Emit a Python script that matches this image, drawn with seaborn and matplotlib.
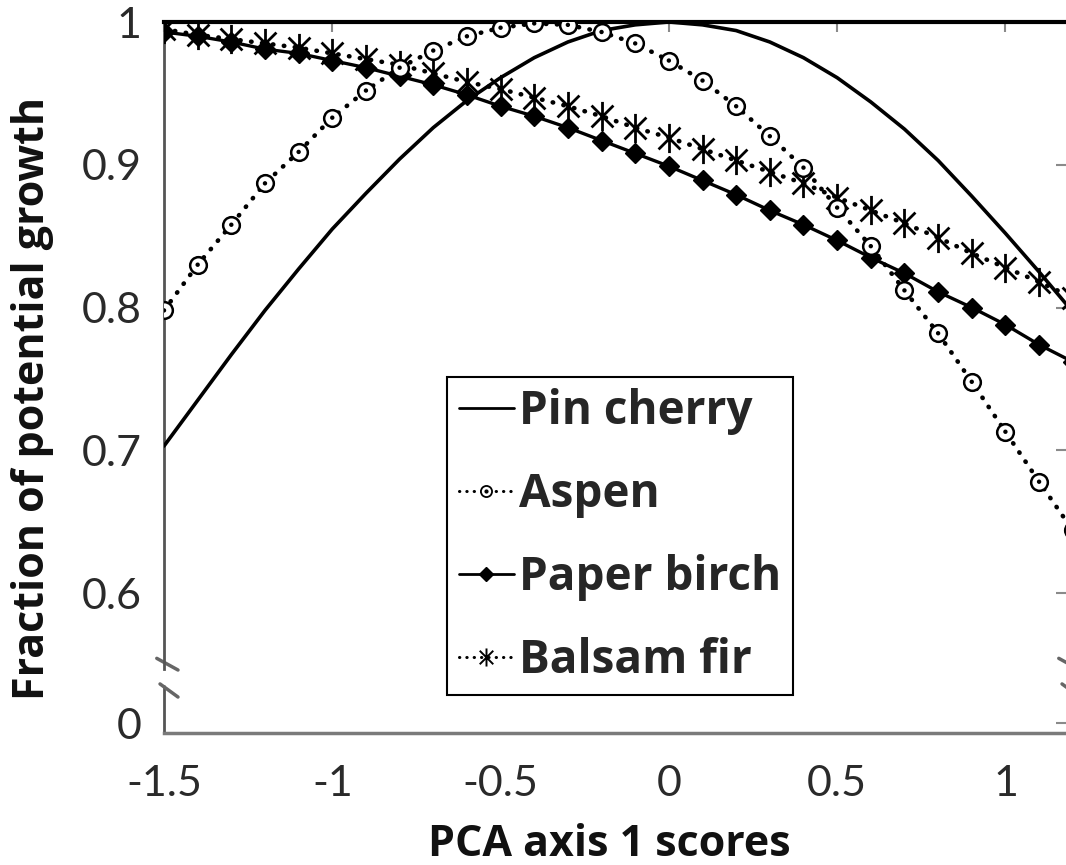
import numpy as np
import pandas as pd
import matplotlib
matplotlib.use("Agg")
import matplotlib.pyplot as plt
from matplotlib.lines import Line2D
from matplotlib.path import Path
from matplotlib.legend_handler import HandlerTuple
from matplotlib import font_manager as fm
import seaborn as sns

# ---------------- data ----------------
pca_scores = [-1.5, -1.4, -1.3, -1.2, -1.1, -1.0, -0.9, -0.8, -0.7, -0.6,
              -0.5, -0.4, -0.3, -0.2, -0.1, 0.0, 0.1, 0.2, 0.3, 0.4,
              0.5, 0.6, 0.7, 0.8, 0.9, 1.0, 1.1, 1.2]
pin_cherry = [0.703, 0.735, 0.767, 0.798, 0.827, 0.855, 0.880, 0.904, 0.926, 0.945,
              0.961, 0.975, 0.986, 0.994, 0.998, 1.000, 0.998, 0.994, 0.986, 0.975,
              0.961, 0.944, 0.925, 0.903, 0.878, 0.852, 0.825, 0.797]
aspen = [0.798, 0.830, 0.858, 0.887, 0.909, 0.933, 0.952, 0.968, 0.980, 0.990,
         0.996, 0.999, 0.998, 0.993, 0.985, 0.973, 0.959, 0.941, 0.920, 0.898,
         0.870, 0.843, 0.812, 0.782, 0.748, 0.713, 0.678, 0.644]
paper_birch = [0.993, 0.990, 0.986, 0.981, 0.978, 0.973, 0.968, 0.962, 0.956, 0.949,
               0.941, 0.934, 0.926, 0.917, 0.908, 0.899, 0.889, 0.879, 0.868, 0.858,
               0.847, 0.835, 0.824, 0.811, 0.800, 0.788, 0.774, 0.762]
balsam_fir = [0.995, 0.991, 0.988, 0.985, 0.982, 0.978, 0.974, 0.970, 0.964, 0.958,
              0.953, 0.947, 0.941, 0.934, 0.926, 0.919, 0.911, 0.903, 0.895, 0.887,
              0.877, 0.868, 0.859, 0.849, 0.838, 0.828, 0.818, 0.807]
species = ["Pin cherry", "Aspen", "Paper birch", "Balsam fir"]

x_ticks = [-1.5, -1.0, -0.5, 0.0, 0.5, 1.0]
x_tick_labels = ["-1.5", "-1", "-0.5", "0", "0.5", "1"]
y_ticks = [0.509, 0.6, 0.7, 0.8, 0.9, 1.0]       # first tick stands for 0 (broken axis)
y_tick_labels = ["0", "0.6", "0.7", "0.8", "0.9", "1"]

df = pd.DataFrame({"x": pca_scores, "Pin cherry": pin_cherry, "Aspen": aspen,
                   "Paper birch": paper_birch, "Balsam fir": balsam_fir})

# ---------------- fonts ----------------
sns.set_style("white")
names = {f.name for f in fm.fontManager.ttflist}
def pick(*cands):
    for c in cands:
        if c in names:
            return c
    return "DejaVu Sans"
bold_font = pick("Liberation Sans Narrow", "Open Sans", "Liberation Sans")
light_font = pick("Lato", "Open Sans", "Roboto")
plt.rcParams["font.family"] = [light_font, "DejaVu Sans"]

# ---------------- figure ----------------
fig = plt.figure(figsize=(10.66, 8.65), dpi=100)
ax = fig.add_axes([164/1066, 1-733/865, (1066-164)/1066, (733-22)/865])

star = Path([(0, -1), (0, 1), (-0.75, -0.75), (0.75, 0.75), (-0.75, 0.75), (0.75, -0.75)],
            [Path.MOVETO, Path.LINETO, Path.MOVETO, Path.LINETO, Path.MOVETO, Path.LINETO])
dotted = (0, (0.1, 2.3))

sns.lineplot(data=df, x="x", y="Pin cherry", ax=ax, color="black", lw=2.6,
             legend=False, zorder=3)
sns.lineplot(data=df, x="x", y="Paper birch", ax=ax, color="black", lw=2.4,
             marker="D", markersize=10, markerfacecolor="black",
             markeredgecolor="black", markeredgewidth=1, legend=False, zorder=4)
sns.lineplot(data=df, x="x", y="Balsam fir", ax=ax, color="black", lw=3.3,
             linestyle=dotted, dash_capstyle="round",
             marker=star, markersize=21, markeredgecolor="black",
             markeredgewidth=2.0, legend=False, zorder=5)
sns.lineplot(data=df, x="x", y="Aspen", ax=ax, color="black", lw=3.3,
             linestyle=dotted, dash_capstyle="round",
             marker="o", markersize=12, markerfacecolor="white",
             markeredgecolor="black", markeredgewidth=1.8, legend=False, zorder=6)
sns.scatterplot(data=df, x="x", y="Aspen", ax=ax, color="black", s=10,
                edgecolor="none", legend=False, zorder=7)

ax.set_xlim(-1.5, 1.18)
ax.set_ylim(0.502, 1.0)
ax.set_xticks(x_ticks)
ax.set_xticklabels(x_tick_labels)
ax.set_yticks(y_ticks)
ax.set_yticklabels(y_tick_labels)
ax.tick_params(axis="both", direction="in", length=7, width=1.5, color="#8a8a8a",
               labelsize=31, labelcolor="#2a2a2a")
ax.tick_params(axis="x", pad=23, top=True)
ax.tick_params(axis="y", pad=16, right=True)

# spines
ax.spines["top"].set_linewidth(3)
ax.spines["top"].set_color("black")
ax.spines["bottom"].set_linewidth(2.5)
ax.spines["bottom"].set_color("#7a7a7a")
ax.spines["right"].set_visible(False)
ax.spines["left"].set_linewidth(2)
ax.spines["left"].set_color("#555555")
ax.spines["left"].set_bounds(0.547, 1.0)
# lower piece of the broken y axis and the break marks
ax.plot([0, 0], [0, 0.066], transform=ax.transAxes, color="#555555", lw=2, clip_on=False)
for (x0, x1, y0, y1) in [(-0.008, 0.0155, 0.105, 0.0886), (-0.0044, 0.0155, 0.069, 0.0506)]:
    ax.plot([x0, x1], [y0, y1], transform=ax.transAxes, color="#666666", lw=2.5,
            clip_on=False)
    ax.plot([1 + x0, 1 + x1], [y0, y1], transform=ax.transAxes, color="#666666", lw=2.5,
            clip_on=False)

# axis labels
ax.set_xlabel("PCA axis 1 scores", fontsize=31, fontweight="bold",
              family=[bold_font, "DejaVu Sans"], color="#111111")
ax.xaxis.set_label_coords(0.494, -0.127)
ax.set_ylabel("Fraction of potential growth", fontsize=31, fontweight="bold",
              family=[bold_font, "DejaVu Sans"], color="#111111", va="center")
ax.yaxis.set_label_coords(-0.146, 0.471)

# legend
h_pin = Line2D([], [], color="black", lw=2)
h_asp = (Line2D([], [], color="black", lw=2.2, linestyle=dotted, dash_capstyle="round",
                marker="o", markersize=8, markerfacecolor="white",
                markeredgecolor="black", markeredgewidth=1.3),
         Line2D([], [], color="none", marker="o", markersize=2,
                markerfacecolor="black", markeredgecolor="black", linestyle="none"))
h_bir = Line2D([], [], color="black", lw=2, marker="D", markersize=7,
               markerfacecolor="black", markeredgecolor="black")
h_fir = Line2D([], [], color="black", lw=2.2, linestyle=dotted, dash_capstyle="round",
               marker=star, markersize=13, markeredgecolor="black", markeredgewidth=1.4)
leg = ax.legend([h_pin, h_asp, h_bir, h_fir], species,
                handler_map={tuple: HandlerTuple(ndivide=1)},
                loc="upper left", bbox_to_anchor=(0.314, 0.5007), borderaxespad=0,
                prop={"family": [bold_font, "DejaVu Sans"], "weight": "bold", "size": 33},
                handlelength=1.2, handletextpad=0.12, labelspacing=0.78,
                borderpad=0.25, frameon=True, fancybox=False, framealpha=1)
leg.get_frame().set_edgecolor("black")
leg.get_frame().set_linewidth(1.5)
leg.set_zorder(10)

fig.savefig("out.png", dpi=100)
